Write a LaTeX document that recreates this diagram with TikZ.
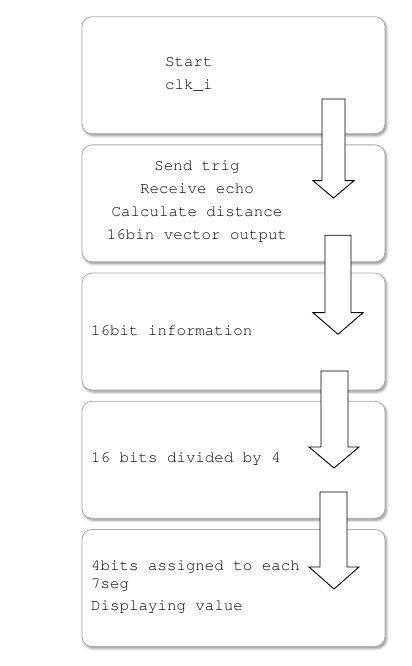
\documentclass[tikz,border=0pt]{standalone}
\usepackage[T1]{fontenc}
\usepackage{courier}
\usetikzlibrary{shadows,shadows.blur}
\tikzset{
  stepbox/.style={draw=gray!65,fill=white,rounded corners=10bp,line width=0.8bp,
    minimum width=303bp,minimum height=117bp,inner sep=0pt,
    blur shadow={shadow xshift=1.5bp,shadow yshift=-2bp,shadow blur radius=2.5bp,shadow opacity=45}},
  steptext/.style={font=\ttfamily\fontsize{15.8bp}{17.5bp}\selectfont,inner sep=0pt},
  blockarrow/.style={draw=black,fill=white,line width=0.9bp,line join=miter},
}

\begin{document}
\begin{tikzpicture}[line join=bevel]
\useasboundingbox (0bp,0bp) rectangle (412bp,666bp);
%%
\begin{scope}
  \node (Start box) at (233.5bp,590.8bp) [stepbox] {};
  \node (Send box) at (233.5bp,462.6bp) [stepbox] {};
  \node (Info box) at (233.5bp,334.4bp) [stepbox] {};
  \node (Divide box) at (233.5bp,206.2bp) [stepbox] {};
  \node (Display box) at (233.5bp,78.0bp) [stepbox] {};
\end{scope}
\begin{scope}
  \node (Start) at (165bp,591.5bp) [steptext,anchor=west,align=left] {Start\\[5.5bp]clk\_i};
  \node (Send trig) at (197bp,464.5bp) [steptext,align=center] {Send trig\\[5.5bp]Receive echo\\[5.5bp]Calculate distance\\[5.5bp]16bin vector output};
  \node (16bit information) at (91bp,335.3bp) [steptext,anchor=west] {16bit information};
  \node (16 bits divided) at (91bp,207bp) [steptext,anchor=west] {16 bits divided by 4};
  \node (4bits assigned) at (91bp,79.2bp) [steptext,anchor=west,align=left] {4bits assigned to each\\7seg\\[5bp]Displaying value};
\end{scope}
%
\begin{scope}
  \draw [blockarrow] (322bp,567bp) -- (345bp,567bp) -- (345bp,485.3bp) -- (354bp,485.3bp) -- (333.5bp,468bp) -- (313bp,485.3bp) -- (322bp,485.3bp) -- cycle;
  \draw [blockarrow] (325bp,430.7bp) -- (351bp,430.7bp) -- (351bp,353.3bp) -- (363bp,353.3bp) -- (338bp,331.7bp) -- (313bp,353.3bp) -- (325bp,353.3bp) -- cycle;
  \draw [blockarrow] (321bp,295bp) -- (348bp,295bp) -- (348bp,219bp) -- (359bp,219bp) -- (334bp,198bp) -- (309bp,219bp) -- (321bp,219bp) -- cycle;
  \draw [blockarrow] (320bp,174bp) -- (347bp,174bp) -- (347bp,99bp) -- (359bp,99bp) -- (334bp,77bp) -- (309bp,99bp) -- (320bp,99bp) -- cycle;
\end{scope}
%
\end{tikzpicture}
\end{document}
